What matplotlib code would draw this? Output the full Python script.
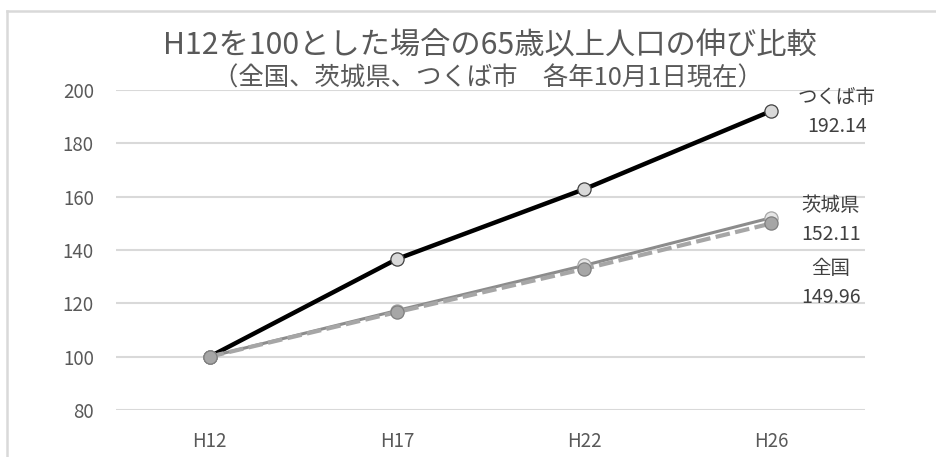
import matplotlib.pyplot as plt
from matplotlib.lines import Line2D

plt.rcParams['font.family'] = ['Noto Sans CJK JP', 'DejaVu Sans']

years = ['H12', 'H17', 'H22', 'H26']
tsukuba = [100, 136.6, 162.8, 192.14]
ibaraki = [100, 117.3, 134.2, 152.11]
zenkoku = [100, 116.7, 132.9, 149.96]

txt = '#595959'
grid = '#d9d9d9'

fig = plt.figure(figsize=(9.37, 4.57), dpi=100)
ax = fig.add_axes([116 / 937, 1 - 410 / 457, 749 / 937, 320 / 457])

x = range(len(years))
ax.plot(x, tsukuba, color='black', lw=3.2, marker='o', ms=9.5,
        mfc='#d9d9d9', mec='#404040', mew=0.9, zorder=3)
ax.plot(x, ibaraki, color='#8c8c8c', lw=2.2, marker='o', ms=9.5,
        mfc='#e6e6e6', mec='#a6a6a6', mew=0.9, zorder=4)
ax.plot(x, zenkoku, color='#a6a6a6', lw=3.0, dashes=(3.5, 1.3), marker='o', ms=9.5,
        mfc='#a6a6a6', mec='#7f7f7f', mew=0.9, zorder=5)

ax.set_xlim(-0.5, 3.5)
ax.set_ylim(80, 200)
ax.set_yticks(range(80, 201, 20))
ax.set_xticks(list(x))
ax.set_xticklabels(years)
ax.yaxis.grid(True, color=grid, lw=1.5)
ax.set_axisbelow(True)
for s in ax.spines.values():
    s.set_visible(False)
ax.tick_params(length=0, labelsize=13.5, labelcolor=txt)
ax.tick_params(axis='y', pad=16)
ax.tick_params(axis='x', pad=15)

# data labels at the last point
lab = dict(ha='center', va='center', fontsize=14, color='#404040',
           linespacing=1.5, textcoords='offset points', annotation_clip=False)
ax.annotate('つくば市\n192.14', (3, tsukuba[-1]), xytext=(47, -1), **lab)
ax.annotate('茨城県\n152.11', (3, ibaraki[-1]), xytext=(43, -2), **lab)
ax.annotate('全国\n149.96', (3, zenkoku[-1]), xytext=(43, -43), **lab)

fig.text(0.523, 1 - 46 / 457, 'H12を100とした場合の65歳以上人口の伸び比較',
         ha='center', va='center', fontsize=21.8, color=txt)
fig.text(0.521, 1 - 79 / 457, '（全国、茨城県、つくば市　各年10月1日現在）',
         ha='center', va='center', fontsize=18.3, color=txt)

# chart frame (top and left edges)
fig.add_artist(Line2D([7 / 937, 1], [1 - 11 / 457] * 2, color=grid, lw=1.8))
fig.add_artist(Line2D([7 / 937] * 2, [0, 1 - 11 / 457], color=grid, lw=1.8))

fig.savefig('out.png', dpi=100)
